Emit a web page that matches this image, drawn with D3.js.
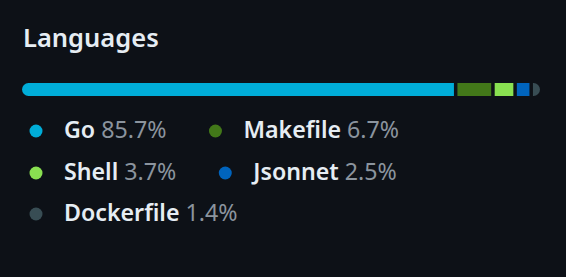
<!DOCTYPE html>
<style>
  html, body { margin: 0; background: #0d1117; }
  svg { display: block; font-family: "Noto Sans", "Open Sans", sans-serif; }
</style>
<svg width="566" height="277"></svg>
<script src="https://d3js.org/d3.v7.min.js"></script>
<script>

var languages = ["Go", "Makefile", "Shell", "Jsonnet", "Dockerfile"],
    percents = [85.7, 6.7, 3.7, 2.5, 1.4],
    colors = ["#00add8", "#427819", "#89e051", "#0064bd", "#384d54"];

var svg = d3.select("svg"),
    width = +svg.attr("width"),
    height = +svg.attr("height");

var left = 22, right = 540,
    gap = 3.5,
    barY = 83, barH = 13;

svg.append("rect")
    .attr("width", width)
    .attr("height", height)
    .attr("fill", "#0d1117");

svg.append("text")
    .attr("x", 23)
    .attr("y", 47)
    .attr("fill", "#e6edf3")
    .attr("font-size", 25.5)
    .attr("font-weight", 600)
    .text("Languages");

// progress bar: segments share the width left over after the gaps
var x = d3.scaleLinear()
    .domain([0, d3.sum(percents)])
    .range([0, right - left - gap * (percents.length - 1)]);

var starts = d3.cumsum([0].concat(percents.slice(0, -1)));

svg.append("clipPath").attr("id", "bar-clip")
  .append("rect")
    .attr("x", left)
    .attr("y", barY)
    .attr("width", right - left)
    .attr("height", barH)
    .attr("rx", barH / 2);

svg.append("g")
    .attr("clip-path", "url(#bar-clip)")
  .selectAll("rect")
  .data(percents)
  .enter().append("rect")
    .attr("x", function(d, i) { return left + x(starts[i]) + i * gap; })
    .attr("y", barY)
    .attr("width", function(d) { return x(d); })
    .attr("height", barH)
    .attr("fill", function(d, i) { return colors[i]; });

// legend, laid out as wrapping rows
var dotX = 36, textOff = 28, itemGap = 49,
    rowY = [138, 180, 221], limit = 544;

var items = svg.append("g").selectAll("g")
  .data(languages)
  .enter().append("g");

items.append("circle")
    .attr("r", 6.5)
    .attr("cy", -7)
    .attr("fill", function(d, i) { return colors[i]; });

var label = items.append("text")
    .attr("x", textOff)
    .attr("font-size", 23.2);

label.append("tspan")
    .attr("fill", "#e6edf3")
    .attr("font-weight", 600)
    .text(function(d) { return d + " "; });

label.append("tspan")
    .attr("fill", "#8b949e")
    .text(function(d, i) { return percents[i] + "%"; });

var cx = dotX, row = 0;
items.each(function() {
  var w = textOff + d3.select(this).select("text").node().getComputedTextLength();
  if (cx !== dotX && cx + w > limit) { cx = dotX; row++; }
  d3.select(this).attr("transform", "translate(" + cx + "," + rowY[row] + ")");
  cx += w + itemGap;
});

</script>
